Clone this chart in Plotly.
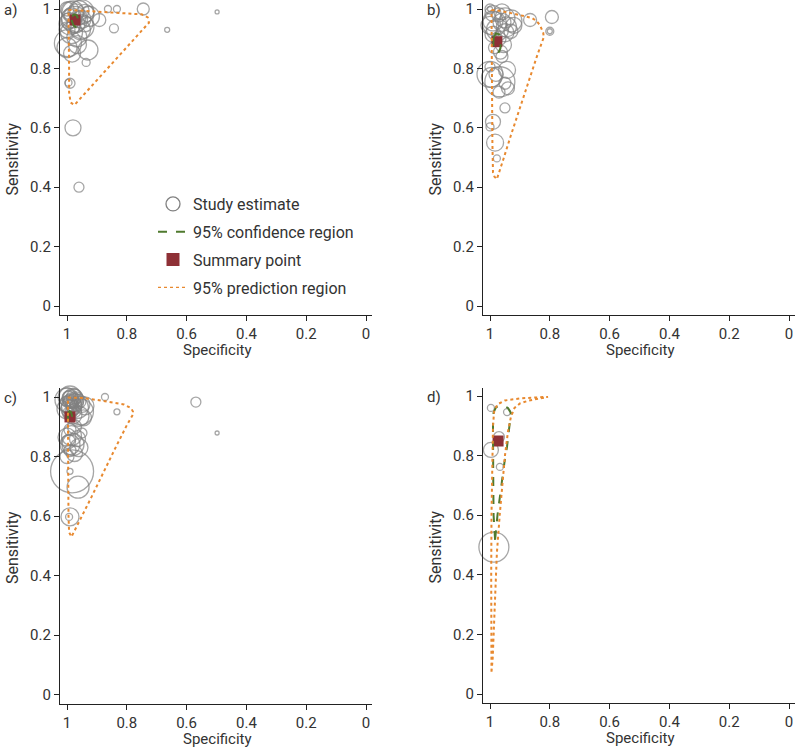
import plotly.graph_objects as go

# ---------------- data (specificity, sensitivity, study weight) ----------------
# Panel a
a_spec = [1.0, 0.99, 0.98, 0.97, 0.96, 0.95, 0.94, 0.93, 0.99, 0.985, 0.975, 0.96, 0.95, 0.995, 0.99,
          0.98, 0.97, 0.955, 0.94, 0.925, 0.892, 0.863, 0.833, 0.745, 0.498, 0.665, 0.843,
          0.967, 0.997, 0.93, 0.983, 1.0, 0.936, 0.99, 0.995, 0.98, 0.96,
          0.985, 0.95, 0.965, 1.0]
a_sens = [1.0, 0.995, 0.99, 0.99, 0.995, 0.99, 0.985, 0.99, 0.98, 0.97, 0.965, 0.97, 0.965, 0.96, 0.95,
          0.94, 0.95, 0.93, 0.95, 0.975, 0.963, 1.0, 1.0, 1.0, 0.99, 0.93, 0.935,
          0.906, 0.885, 0.862, 0.85, 0.87, 0.82, 0.75, 0.752, 0.60, 0.40,
          0.92, 0.94, 0.88, 0.93]
a_weight = [14, 18, 22, 16, 20, 24, 18, 12, 12, 20, 26, 14, 18, 16, 22,
            14, 18, 20, 16, 20, 13, 7, 7, 12, 4, 5, 9,
            20, 27, 20, 17, 20, 8, 10, 7, 16, 10,
            22, 24, 18, 16]
a_summary = (0.973, 0.963)
a_conf_spec = [0.983, 0.976, 0.968, 0.963, 0.964, 0.970, 0.978, 0.984, 0.983]
a_conf_sens = [0.975, 0.982, 0.979, 0.967, 0.948, 0.939, 0.944, 0.960, 0.975]
a_pred_spec = [0.995, 0.95, 0.90, 0.85, 0.80, 0.75, 0.73, 0.726, 0.76, 0.80, 0.85, 0.90, 0.94,
               0.965, 0.975, 0.988, 0.993, 0.993, 0.994, 0.995]
a_pred_sens = [0.997, 0.994, 0.991, 0.989, 0.986, 0.982, 0.972, 0.954, 0.916, 0.871, 0.815, 0.759,
               0.714, 0.686, 0.677, 0.685, 0.72, 0.80, 0.90, 0.997]

# Panel b
b_spec = [1.0, 1.0, 0.99, 0.97, 0.95, 0.93, 0.96, 0.985, 1.0, 0.945, 0.92, 0.975, 0.95, 0.99, 0.93,
          0.97, 0.955, 0.985, 0.965, 0.866, 0.793, 0.80, 0.80,
          1.0, 0.995, 0.967, 0.943, 0.94, 0.95, 0.99, 1.0, 0.983, 0.977, 0.96, 0.98, 0.95, 0.97, 1.0,
          0.99, 0.96]
b_sens = [1.0, 1.0, 0.985, 0.98, 0.97, 0.96, 0.955, 0.95, 0.945, 0.94, 0.945, 0.93, 0.92, 0.915, 0.925,
          0.90, 0.88, 0.87, 0.855, 0.963, 0.973, 0.925, 0.925,
          0.805, 0.77, 0.755, 0.795, 0.733, 0.667, 0.62, 0.603, 0.55, 0.497, 0.84, 0.78, 0.75, 0.72, 0.78,
          0.96, 0.99]
b_weight = [10, 5, 16, 14, 20, 22, 18, 24, 18, 20, 16, 22, 18, 16, 14,
            14, 16, 12, 14, 13, 13, 8, 5,
            10, 20, 30, 17, 13, 10, 15, 8, 17, 7, 12, 14, 12, 12, 26,
            20, 16]
b_summary = (0.977, 0.89)
b_conf_spec = [0.988, 0.980, 0.970, 0.964, 0.965, 0.972, 0.982, 0.989, 0.988]
b_conf_sens = [0.905, 0.918, 0.915, 0.895, 0.868, 0.852, 0.858, 0.880, 0.905]
b_pred_spec = [0.995, 0.97, 0.933, 0.90, 0.86, 0.845, 0.833, 0.822, 0.82, 0.84, 0.87, 0.90, 0.93,
               0.955, 0.97, 0.977, 0.985, 0.99, 0.992, 0.993, 0.994, 0.995, 0.995]
b_pred_sens = [0.997, 0.994, 0.987, 0.98, 0.97, 0.96, 0.946, 0.92, 0.905, 0.85, 0.76, 0.67, 0.575,
               0.495, 0.45, 0.427, 0.435, 0.45, 0.55, 0.70, 0.85, 0.95, 0.997]

# Panel c
c_spec = [1.0, 0.99, 0.98, 0.97, 1.0, 0.99, 0.975, 0.96, 1.0, 0.985, 0.965, 0.95, 0.99, 0.975, 0.955,
          0.94, 0.995, 0.98, 0.96, 0.945, 0.873, 0.833, 0.569, 0.498,
          0.95, 0.975, 0.99, 0.985, 0.965, 0.995, 0.98, 0.96, 0.99, 1.0, 0.975, 0.983, 0.99, 0.963,
          0.99, 0.993,
          0.995, 0.985, 0.975, 0.995, 0.985, 0.97, 1.0, 0.99, 0.98, 0.97, 1.0, 0.99]
c_sens = [1.0, 1.0, 0.995, 0.99, 0.99, 0.985, 0.98, 0.985, 0.975, 0.97, 0.965, 0.975, 0.96, 0.955, 0.95,
          0.97, 0.945, 0.94, 0.935, 0.93, 1.0, 0.95, 0.983, 0.879,
          0.879, 0.90, 0.89, 0.87, 0.86, 0.85, 0.84, 0.83, 0.82, 0.80, 0.81, 0.75, 0.75, 0.697,
          0.597, 0.597,
          1.0, 0.99, 1.0, 0.975, 0.98, 0.975, 0.96, 0.995, 0.97, 0.995, 0.865, 0.84]
c_weight = [18, 22, 20, 16, 24, 14, 18, 14, 16, 20, 22, 16, 18, 14, 26,
            18, 12, 18, 20, 16, 7, 6, 10, 4,
            10, 14, 12, 20, 16, 14, 22, 18, 12, 14, 16, 43, 6, 22,
            18, 7,
            12, 14, 16, 18, 10, 12, 20, 16, 12, 10, 18, 20]
c_summary = (0.99, 0.933)
c_conf_spec = [0.996, 0.992, 0.986, 0.983, 0.985, 0.990, 0.995, 0.997, 0.996]
c_conf_sens = [0.945, 0.952, 0.948, 0.935, 0.918, 0.912, 0.918, 0.932, 0.945]
c_pred_spec = [0.997, 0.95, 0.90, 0.85, 0.81, 0.785, 0.779, 0.78, 0.80, 0.84, 0.88, 0.92, 0.95,
               0.97, 0.985, 0.993, 0.995, 0.996, 0.997, 0.997]
c_pred_sens = [0.998, 0.997, 0.99, 0.983, 0.975, 0.962, 0.95, 0.94, 0.905, 0.825, 0.74, 0.66, 0.60,
               0.56, 0.53, 0.545, 0.60, 0.75, 0.90, 0.998]

# Panel d
d_spec = [0.997, 0.943, 0.97, 0.997, 0.967, 0.987]
d_sens = [0.96, 0.946, 0.862, 0.819, 0.762, 0.493]
d_weight = [7, 7, 11, 15, 7, 30]
d_summary = (0.973, 0.849)
d_conf_spec = [0.983, 0.988, 0.989, 0.990, 0.990, 0.988, 0.980, 0.967, 0.950, 0.940, 0.930,
               0.935, 0.943, 0.952, 0.960, 0.968, 0.975, 0.983]
d_conf_sens = [0.517, 0.60, 0.70, 0.80, 0.90, 0.945, 0.962, 0.967, 0.965, 0.960, 0.943,
               0.90, 0.83, 0.775, 0.72, 0.66, 0.60, 0.517]
d_pred_spec = [0.995, 0.996, 0.996, 0.995, 0.993, 0.990, 0.986, 0.975, 0.95, 0.90, 0.85, 0.806,
               0.83, 0.87, 0.90, 0.918, 0.930, 0.940, 0.950, 0.960, 0.967, 0.977, 0.982, 0.987,
               0.991, 0.995]
d_pred_sens = [0.075, 0.20, 0.40, 0.60, 0.80, 0.90, 0.95, 0.972, 0.985, 0.992, 0.995, 0.997,
               0.992, 0.985, 0.975, 0.96, 0.93, 0.88, 0.80, 0.70, 0.607, 0.473, 0.34, 0.20,
               0.12, 0.075]

panel_names = ["a)", "b)", "c)", "d)"]
tick_vals = [0, 0.2, 0.4, 0.6, 0.8, 1]
tick_text = ["0", "0.2", "0.4", "0.6", "0.8", "1"]
legend_names = ["Study estimate", "95% confidence region", "Summary point", "95% prediction region"]

panels = [
    (a_spec, a_sens, a_weight, a_summary, a_conf_spec, a_conf_sens, a_pred_spec, a_pred_sens),
    (b_spec, b_sens, b_weight, b_summary, b_conf_spec, b_conf_sens, b_pred_spec, b_pred_sens),
    (c_spec, c_sens, c_weight, c_summary, c_conf_spec, c_conf_sens, c_pred_spec, c_pred_sens),
    (d_spec, d_sens, d_weight, d_summary, d_conf_spec, d_conf_sens, d_pred_spec, d_pred_sens),
]

# ---------------- layout geometry (pixels) ----------------
W, H = 797, 747
# plot area: left, right, top, bottom ; value pixels: spec=1, spec=0, sens=1, sens=0
geom = [
    dict(l=60, r=372, t=0, b=315, x1=67, x0=366, y1=9, y0=306),
    dict(l=483, r=795, t=0, b=315, x1=490, x0=789, y1=9, y0=306),
    dict(l=60, r=372, t=388, b=704, x1=67, x0=366, y1=397, y0=694.5),
    dict(l=483, r=795, t=388, b=703, x1=490, x0=789, y1=396, y0=694),
]

GRAY = "#808080"
RED = "#8e3036"
GREEN = "#4f7a2e"
ORANGE = "#e8892f"
AXC = "#222222"
FONT = "Roboto"
FS = 15

def px_x(p):
    return p / W

def px_y(p):
    return 1 - p / H

fig = go.Figure()
layout = dict(
    width=W, height=H, margin=dict(l=0, r=0, t=0, b=0),
    paper_bgcolor="white", plot_bgcolor="white",
    font=dict(family=FONT, size=FS, color="#333333"),
    showlegend=True,
)
annotations = []

for i, (spec, sens, wt, summ, cs, cse, ps, pse) in enumerate(panels):
    g = geom[i]
    sfx = "" if i == 0 else str(i + 1)
    xa, ya = "x" + sfx, "y" + sfx
    xppu = (g["x0"] - g["x1"])
    yppu = (g["y0"] - g["y1"])
    xr = [1 + (g["x1"] - g["l"]) / xppu, -(g["r"] - g["x0"]) / xppu]
    yr = [-(g["b"] - g["y0"]) / yppu, 1 + (g["y1"] - g["t"]) / yppu]
    common = dict(showline=True, linecolor=AXC, linewidth=1.3, ticks="outside", ticklen=5,
                  tickwidth=1.2, tickcolor=AXC, showgrid=False, zeroline=False,
                  tickvals=tick_vals, ticktext=tick_text, ticklabeloverflow="allow",
                  tickfont=dict(family=FONT, size=FS, color="#333333"), mirror=False)
    layout["xaxis" + sfx] = dict(domain=[px_x(g["l"]), px_x(g["r"])], range=xr, anchor=ya, **common)
    layout["yaxis" + sfx] = dict(domain=[px_y(g["b"]), px_y(g["t"])], range=yr, anchor=xa, **common)

    fig.add_trace(go.Scatter(x=spec, y=sens, mode="markers", xaxis=xa, yaxis=ya, showlegend=False,
                             cliponaxis=False,
                             marker=dict(symbol="circle-open", size=wt, color=GRAY,
                                         line=dict(width=1.3, color=GRAY))))
    fig.add_trace(go.Scatter(x=[summ[0]], y=[summ[1]], mode="markers", xaxis=xa, yaxis=ya,
                             showlegend=False, cliponaxis=False,
                             marker=dict(symbol="square", size=11, color=RED)))
    fig.add_trace(go.Scatter(x=cs, y=cse, mode="lines", xaxis=xa, yaxis=ya, showlegend=False,
                             line=dict(color=GREEN, width=2, dash="dash"), cliponaxis=False))
    fig.add_trace(go.Scatter(x=ps, y=pse, mode="lines", xaxis=xa, yaxis=ya, showlegend=False,
                             line=dict(color=ORANGE, width=2, dash="dot"), cliponaxis=False))

    # texts
    annotations.append(dict(text=panel_names[i], x=px_x(g["l"] - 58), y=px_y(g["y1"] + 1),
                            xref="paper", yref="paper", xanchor="left", yanchor="middle",
                            showarrow=False, font=dict(family=FONT, size=FS, color="#333333")))
    annotations.append(dict(text="Sensitivity", x=px_x(g["l"] - 48), y=px_y((g["t"] + g["b"]) / 2 + 2),
                            xref="paper", yref="paper", xanchor="center", yanchor="middle",
                            textangle=-90, showarrow=False,
                            font=dict(family=FONT, size=FS + 1, color="#333333")))
    annotations.append(dict(text="Specificity", x=px_x((g["l"] + g["r"]) / 2 + 1), y=px_y(g["b"] + 35),
                            xref="paper", yref="paper", xanchor="center", yanchor="middle",
                            showarrow=False, font=dict(family=FONT, size=FS, color="#333333")))

# legend-only entries
fig.add_trace(go.Scatter(x=[None], y=[None], mode="markers", name=legend_names[0], legendgroup="g1",
                         marker=dict(symbol="circle-open", size=14, color=GRAY, line=dict(width=1.3, color=GRAY))))
fig.add_trace(go.Scatter(x=[None], y=[None], mode="lines", name=legend_names[1], legendgroup="g2",
                         line=dict(color=GREEN, width=2, dash="dash")))
fig.add_trace(go.Scatter(x=[None], y=[None], mode="markers", name=legend_names[2], legendgroup="g3",
                         marker=dict(symbol="square", size=13, color=RED)))
fig.add_trace(go.Scatter(x=[None], y=[None], mode="lines", name=legend_names[3], legendgroup="g4",
                         line=dict(color=ORANGE, width=1.2, dash="dot")))

layout["legend"] = dict(x=px_x(153), y=px_y(187), xanchor="left", yanchor="top",
                        bgcolor="rgba(0,0,0,0)", tracegroupgap=4,
                        font=dict(family=FONT, size=FS + 1, color="#333333"))
layout["annotations"] = annotations
fig.update_layout(**layout)
fig.write_html("out.html", config={"displayModeBar": False},
               post_script="document.body.style.margin='0px';")
